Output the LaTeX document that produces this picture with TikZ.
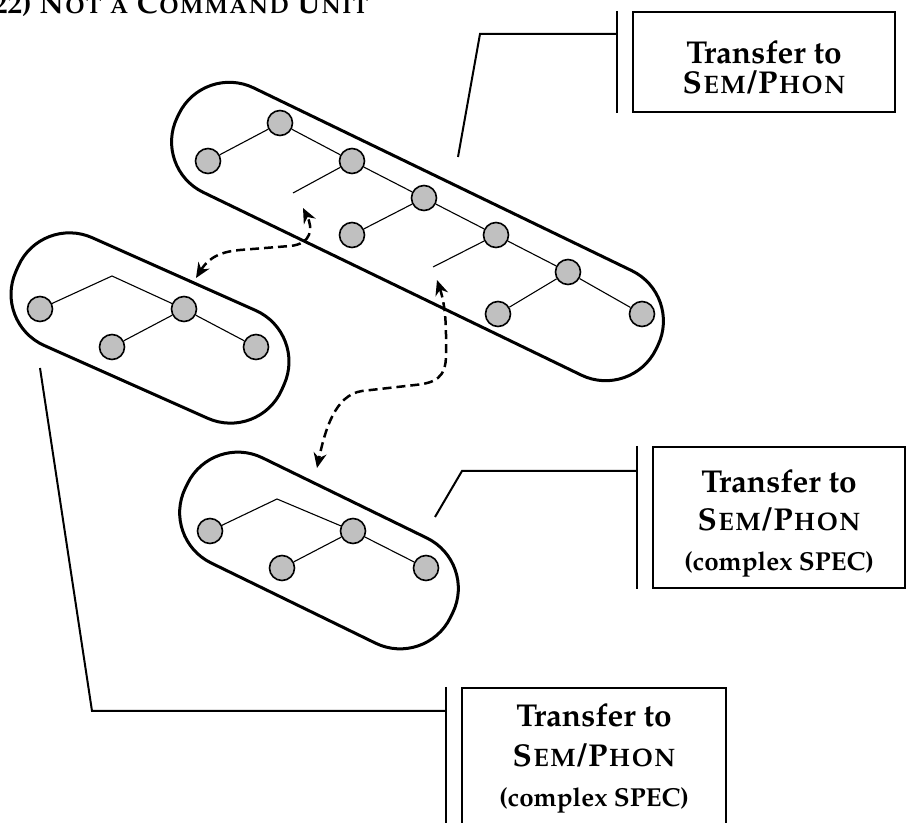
\documentclass[tikz,border=0pt]{standalone}
\usepackage[T1]{fontenc}
\usepackage{mathpazo}
\usepackage{tikz}
\usetikzlibrary{calc,arrows.meta}
\definecolor{nodefill}{HTML}{C0C0C0}
\tikzset{
  unit/.style={draw, line width=1.5pt, rectangle, rounded corners=28pt, minimum height=58pt},
  dot/.style={circle, draw, fill=nodefill, line width=0.8pt, minimum size=12.5pt, inner sep=0pt},
  edge/.style={line width=0.55pt},
  link/.style={line width=1pt},
  bar/.style={line width=1pt},
  hop/.style={line width=1.25pt, dash pattern=on 4.5pt off 2.5pt,
    {Stealth[length=7.5pt,width=6.5pt]}-{Stealth[length=7.5pt,width=6.5pt]}},
  spell/.style={draw, line width=1.15pt, align=center, inner sep=0pt,
    font=\fontsize{15.8}{20}\selectfont\bfseries},
  ttl/.style={font=\fontsize{14.5}{17}\selectfont\bfseries, inner sep=0pt, anchor=base west},
}

\begin{document}
\begin{tikzpicture}[x=0.5pt,y=-0.5pt]
  \useasboundingbox (0,0) rectangle (907,823);
  \clip (0,0) rectangle (907,823);

  % title, cut at the top edge
  \node[ttl] (ttl) at (-17,14) {(22) \textsc{Not a Command Unit}};

  % units
  \node[unit, minimum width=266pt, rotate=-25.8] (bigU) at (417.5,231.5) {};
  \node[unit, minimum width=145.5pt, minimum height=59pt, rotate=-24] (leftU) at (150,328) {};
  \node[unit, minimum width=147.5pt, minimum height=58.5pt, rotate=-26] (midU) at (319,550.5) {};

  % main tree
  \node[dot] (b1) at (280,123) {};
  \node[dot] (b2) at (208,161) {};
  \node[dot] (b3) at (352,161) {};
  \node[dot] (b4) at (424,198) {};
  \node[dot] (b5) at (352,235) {};
  \node[dot] (b6) at (496,235) {};
  \node[dot] (b7) at (568,272) {};
  \node[dot] (b8) at (498,314) {};
  \node[dot] (b9) at (642,314) {};
  \coordinate (b3x) at (293,193); % gap
  \coordinate (b6x) at (433,267); % gap
  \draw[edge] (b2) -- (b1) -- (b3) -- (b4) -- (b6) -- (b7) -- (b9);
  \draw[edge] (b3) -- (b3x);
  \draw[edge] (b4) -- (b5);
  \draw[edge] (b6) -- (b6x);
  \draw[edge] (b7) -- (b8);

  % left tree
  \node[dot] (l1) at (40,309) {};
  \node[dot] (l2) at (184,309) {};
  \node[dot] (l3) at (112,347) {};
  \node[dot] (l4) at (256,347) {};
  \coordinate (lk) at (112,276);
  \draw[edge] (l1) -- (lk) -- (l2) -- (l4);
  \draw[edge] (l2) -- (l3);

  % middle tree
  \node[dot] (m1) at (210,531) {};
  \node[dot] (m2) at (353,531) {};
  \node[dot] (m3) at (282,568) {};
  \node[dot] (m4) at (426,568) {};
  \coordinate (mk) at (277,499);
  \draw[edge] (m1) -- (mk) -- (m2) -- (m4);
  \draw[edge] (m2) -- (m3);

  % movement
  \coordinate (hop1a) at (196,278);
  \coordinate (hop1b) at (303,208);
  \draw[hop] (hop1a) .. controls (206,262) and (215,252) .. (240,250) -- (290,246)
    .. controls (312,244) and (313,228) .. (hop1b);
  \coordinate (hop2a) at (437,280);
  \coordinate (hop2b) at (317,468);
  \draw[hop] (hop2a) .. controls (447,310) and (446,335) .. (446,355)
    .. controls (446,378) and (435,383) .. (415,385) -- (362,391)
    .. controls (335,395) and (325,430) .. (hop2b);

  % spell-out boxes
  \node[spell, minimum width=131pt, minimum height=50pt] (topBox) at (764,62)
    {\rule{0pt}{17pt}Transfer to\\[-5pt]\textsc{Sem/Phon}};
  \node[spell, minimum width=126pt, minimum height=70.5pt] (midBox) at (779,517.5)
    {\rule{0pt}{17pt}Transfer to\\[-1pt]\textsc{Sem/Phon}\\{\fontsize{13}{16}\selectfont(complex SPEC)}};
  \node[spell, minimum width=132pt, minimum height=70.5pt] (botBox) at (594,758.5)
    {Transfer to\\\textsc{Sem/Phon}\\{\fontsize{13}{16}\selectfont(complex SPEC)}};
  \foreach \b in {topBox,midBox,botBox}{
    \coordinate (\b Bar) at ([xshift=-7.5pt]\b.west);
    \draw[bar] ([xshift=-7.5pt]\b.north west) -- ([xshift=-7.5pt]\b.south west);
  }

  % connectors
  \coordinate (bigE) at (458,157);
  \coordinate (bigK) at (480,34);
  \draw[link] (bigE) -- (bigK) -- (bigK -| topBoxBar);
  \coordinate (midE) at (435,517);
  \coordinate (midK) at (462,471);
  \draw[link] (midE) -- (midK) -- (midK -| midBoxBar);
  \coordinate (leftE) at (40,368);
  \coordinate (leftK) at (92,711);
  \draw[link] (leftE) -- (leftK) -- (leftK -| botBoxBar);
\end{tikzpicture}
\end{document}
